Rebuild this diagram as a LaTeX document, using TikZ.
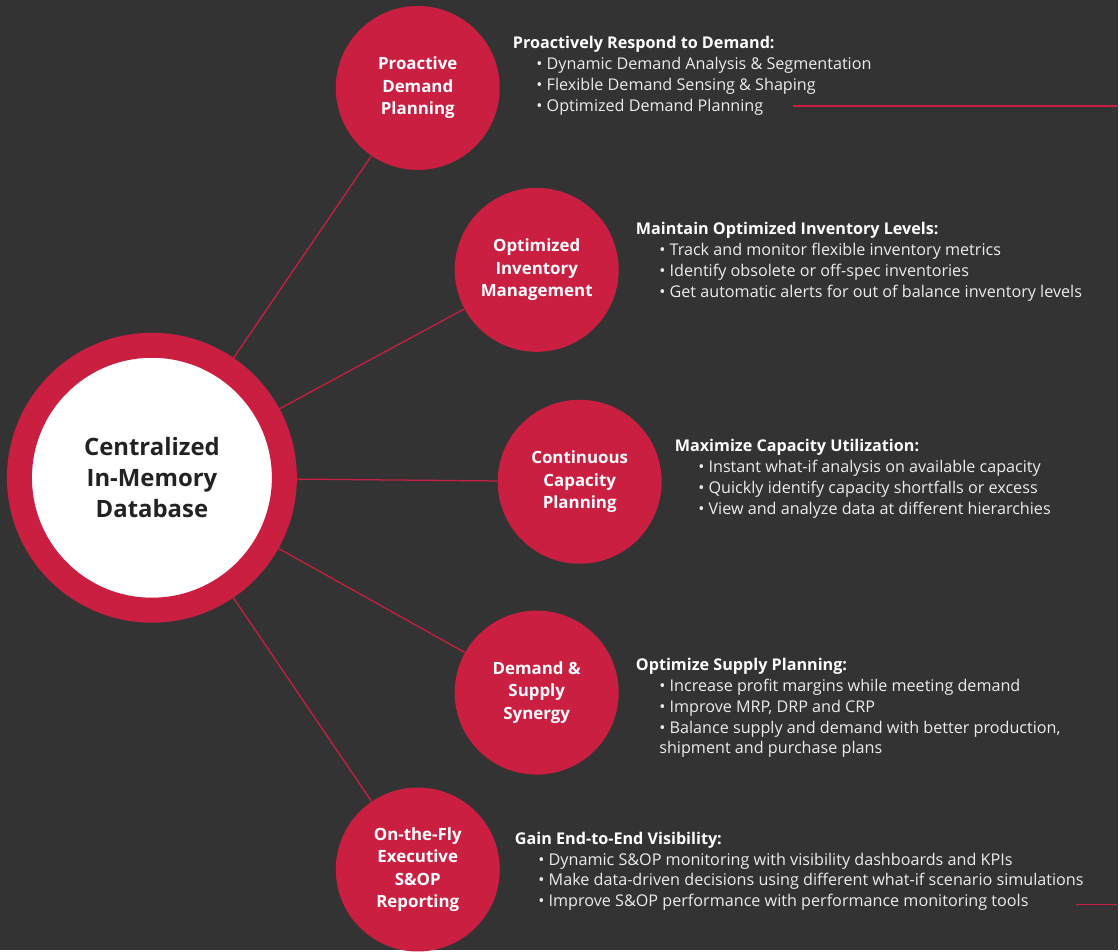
\documentclass[tikz,border=0pt]{standalone}
\usepackage{fontspec}
\setmainfont{Open Sans}
\usepackage{xcolor}
\definecolor{SlideBg}{RGB}{51, 51, 51}
\definecolor{SlideRed}{RGB}{203, 31, 66}
\definecolor{SlideText}{RGB}{236, 236, 236}
\definecolor{SlideWhite}{RGB}{255, 255, 255}
\definecolor{SlideInk}{RGB}{34, 34, 34}
\newcommand{\pt}[1]{\\\hspace*{1.45em}\textbullet\ #1}

\begin{document}
\begin{tikzpicture}[
    x=0.025cm, y=-0.025cm,
    % Styles
    hub/.style={circle, draw=SlideRed, line width=0.625cm, fill=SlideWhite, minimum size=6.625cm, inner sep=0pt, align=center, text=SlideInk, font=\fontsize{17}{22}\selectfont\bfseries},
    topic/.style={circle, fill=SlideRed, minimum size=4.1cm, inner sep=0pt, align=center, text=SlideWhite, font=\fontsize{12}{16}\selectfont\bfseries},
    spoke/.style={line width=0.9pt, -, color=SlideRed},
    infobox/.style={anchor=north west, inner sep=0pt, align=left, text=SlideText, font=\fontsize{11.5}{14.9}\selectfont}
]

% Background
\fill[SlideBg] (0,0) rectangle (1119,951);

% ==========================================================================================
% CIRCLES
% ==========================================================================================

% Centre hub
\node[hub] (imdb) at (152,478) {Centralized\\In-Memory\\Database};

% Topics
\node[topic] (demand) at (418,88) {Proactive\\Demand\\Planning};
\node[topic] (inventory) at (537,270) {Optimized\\Inventory\\Management};
\node[topic] (capacity) at (580,482) {Continuous\\Capacity\\Planning};
\node[topic] (synergy) at (537,693) {Demand \&\\Supply\\Synergy};
\node[topic] (reporting) at (418,870) {On-the-Fly\\Executive\\S\&OP\\Reporting};

% Spokes
\draw[spoke] (imdb) -- (demand);
\draw[spoke] (imdb) -- (inventory);
\draw[spoke] (imdb) -- (capacity);
\draw[spoke] (imdb) -- (synergy);
\draw[spoke] (imdb) -- (reporting);

% ==========================================================================================
% TEXT BLOCKS
% ==========================================================================================

\node[infobox] (demand_info) at (513,36) {\textbf{\color{SlideWhite}Proactively Respond to Demand:}
    \pt{Dynamic Demand Analysis \& Segmentation}
    \pt{Flexible Demand Sensing \& Shaping}
    \pt{Optimized Demand Planning}};

\node[infobox] (inventory_info) at (636,222) {\textbf{\color{SlideWhite}Maintain Optimized Inventory Levels:}
    \pt{Track and monitor flexible inventory metrics}
    \pt{Identify obsolete or off-spec inventories}
    \pt{Get automatic alerts for out of balance inventory levels}};

\node[infobox] (capacity_info) at (675,439) {\textbf{\color{SlideWhite}Maximize Capacity Utilization:}
    \pt{Instant what-if analysis on available capacity}
    \pt{Quickly identify capacity shortfalls or excess}
    \pt{View and analyze data at different hierarchies}};

\node[infobox] (synergy_info) at (636,658) {\textbf{\color{SlideWhite}Optimize Supply Planning:}
    \pt{Increase profit margins while meeting demand}
    \pt{Improve MRP, DRP and CRP}
    \pt{Balance supply and demand with better production,}\\\hspace*{1.45em}shipment and purchase plans};

\node[infobox] (reporting_info) at (515,832) {\textbf{\color{SlideWhite}Gain End-to-End Visibility:}
    \pt{Dynamic S\&OP monitoring with visibility dashboards and KPIs}
    \pt{Make data-driven decisions using different what-if scenario simulations}
    \pt{Improve S\&OP performance with performance monitoring tools}};

% Edge rules
\coordinate (rule_top_a) at (793,106);
\coordinate (rule_top_b) at (1119,106);
\coordinate (rule_bot_a) at (1077,905);
\coordinate (rule_bot_b) at (1119,905);
\draw[spoke] (rule_top_a) -- (rule_top_b);
\draw[spoke] (rule_bot_a) -- (rule_bot_b);

\end{tikzpicture}
\end{document}
